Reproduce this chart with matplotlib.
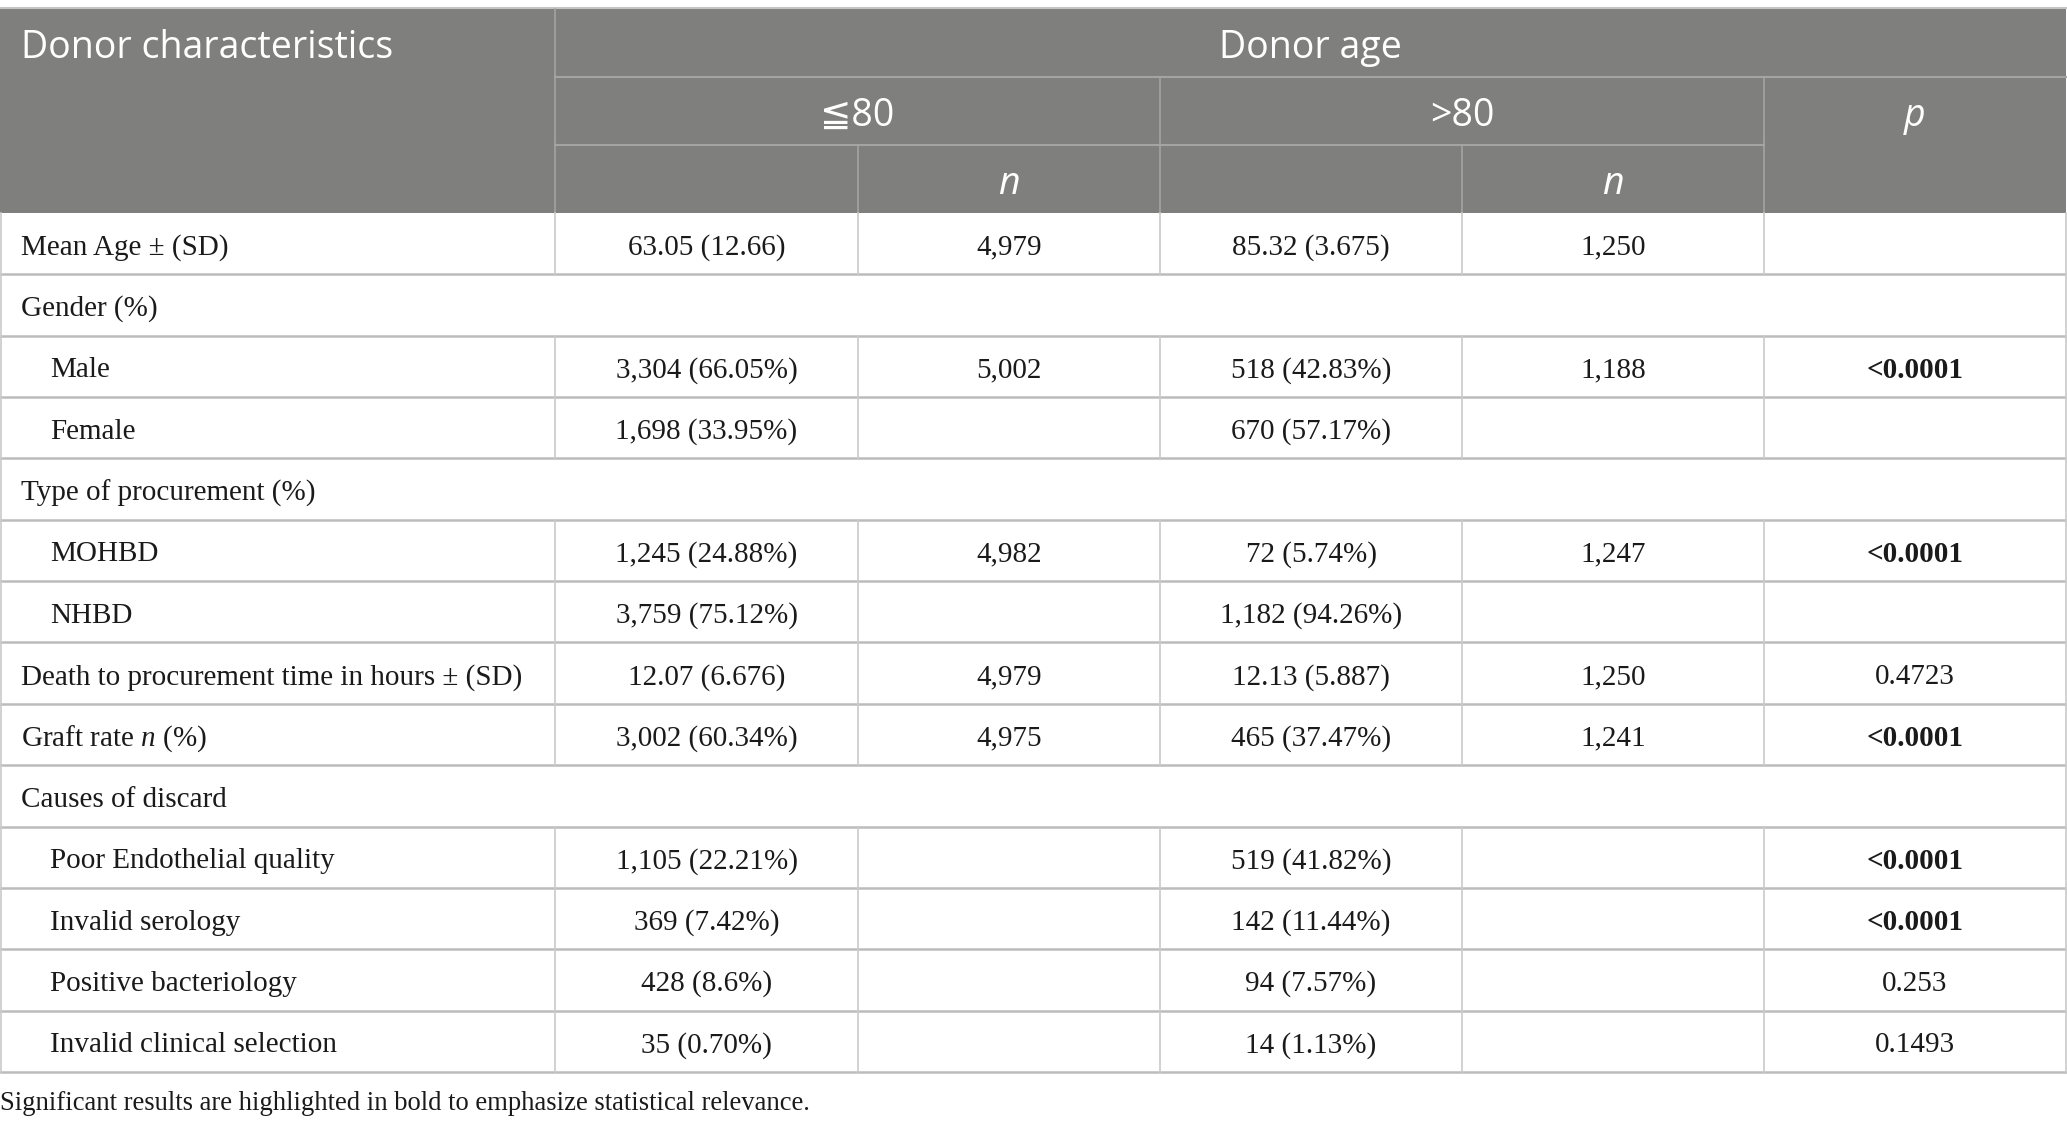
import matplotlib
matplotlib.use('Agg')
import matplotlib.pyplot as plt

#######################################################################
# table content

header_top = "Donor characteristics"
header_group = "Donor age"
age_groups = ["\u226680", ">80"]
p_label = "p"
n_label = "n"

row_labels = [
    "Mean Age \u00b1 (SD)",
    "Gender (%)",
    "Male",
    "Female",
    "Type of procurement (%)",
    "MOHBD",
    "NHBD",
    "Death to procurement time in hours \u00b1 (SD)",
    "Graft rate $\\it{n}$ (%)",
    "Causes of discard",
    "Poor Endothelial quality",
    "Invalid serology",
    "Positive bacteriology",
    "Invalid clinical selection",
]
section_rows = [1, 4, 9]
indent_rows = [2, 3, 5, 6, 10, 11, 12, 13]

young_val = ["63.05 (12.66)", "", "3,304 (66.05%)", "1,698 (33.95%)", "",
             "1,245 (24.88%)", "3,759 (75.12%)", "12.07 (6.676)", "3,002 (60.34%)", "",
             "1,105 (22.21%)", "369 (7.42%)", "428 (8.6%)", "35 (0.70%)"]
young_n = ["4,979", "", "5,002", "", "", "4,982", "", "4,979", "4,975", "",
           "", "", "", ""]
old_val = ["85.32 (3.675)", "", "518 (42.83%)", "670 (57.17%)", "",
           "72 (5.74%)", "1,182 (94.26%)", "12.13 (5.887)", "465 (37.47%)", "",
           "519 (41.82%)", "142 (11.44%)", "94 (7.57%)", "14 (1.13%)"]
old_n = ["1,250", "", "1,188", "", "", "1,247", "", "1,250", "1,241", "",
         "", "", "", ""]
p_values = ["", "", "<0.0001", "", "", "<0.0001", "", "0.4723", "<0.0001", "",
            "<0.0001", "<0.0001", "0.253", "0.1493"]
p_bold = [False, False, True, False, False, True, False, False, True, False,
          True, True, False, False]

caption = "Significant results are highlighted in bold to emphasize statistical relevance."

#######################################################################
# layout (pixels)

W, H = 2067, 1129
col_x = [0, 555, 858, 1160, 1462, 1764, 2066]
head_y = [9, 77, 145, 213]
row_h = 61.35

HEAD_BG = "#7f807e"
HEAD_LINE = "#a4a4a4"
GRID_H = "#bcbcbc"
GRID_V = "#cacaca"
TXT = "#1a1a1a"

SANS = ["Open Sans", "DejaVu Sans"]
SERIF = "Liberation Serif"

plt.rcParams['mathtext.fontset'] = 'custom'
plt.rcParams['mathtext.rm'] = SERIF
plt.rcParams['mathtext.it'] = SERIF + ':italic'

fig = plt.figure(figsize=(W / 100, H / 100), dpi=100)
ax = fig.add_axes([0, 0, 1, 1])
ax.set_xlim(0, W)
ax.set_ylim(H, 0)
ax.axis("off")

# header block
ax.add_patch(plt.Rectangle((0, head_y[0]), col_x[-1], head_y[3] - head_y[0],
                           facecolor=HEAD_BG, edgecolor="none"))
ax.plot([0, W], [head_y[0] - 1, head_y[0] - 1], color="#c4c4c4", lw=1.5)
ax.plot([col_x[1], col_x[-1]], [head_y[1], head_y[1]], color=HEAD_LINE, lw=1.5)
ax.plot([col_x[1], col_x[5]], [head_y[2], head_y[2]], color=HEAD_LINE, lw=1.5)
ax.plot([col_x[1], col_x[1]], [head_y[0], head_y[3]], color=HEAD_LINE, lw=1.2)
ax.plot([col_x[3], col_x[3]], [head_y[1], head_y[3]], color=HEAD_LINE, lw=1.2)
ax.plot([col_x[5], col_x[5]], [head_y[1], head_y[3]], color=HEAD_LINE, lw=1.2)
ax.plot([col_x[2], col_x[2]], [head_y[2], head_y[3]], color=HEAD_LINE, lw=1.2)
ax.plot([col_x[4], col_x[4]], [head_y[2], head_y[3]], color=HEAD_LINE, lw=1.2)

hfs = 27
hoff = 5
ax.text(21, (head_y[0] + head_y[1]) / 2 + hoff, header_top, family=SANS,
        fontsize=hfs, color="white", ha="left", va="center")
ax.text((col_x[1] + col_x[-1]) / 2, (head_y[0] + head_y[1]) / 2 + hoff, header_group,
        family=SANS, fontsize=hfs, color="white", ha="center", va="center")
for i, g in enumerate(age_groups):
    xc = (col_x[1 + 2 * i] + col_x[3 + 2 * i]) / 2
    ax.text(xc, (head_y[1] + head_y[2]) / 2 + hoff, g, family=SANS, fontsize=hfs,
            color="white", ha="center", va="center")
    xn = (col_x[2 + 2 * i] + col_x[3 + 2 * i]) / 2
    ax.text(xn, (head_y[2] + head_y[3]) / 2 + hoff, n_label, family=SANS,
            fontsize=hfs, color="white", ha="center", va="center", style="italic")
ax.text((col_x[5] + col_x[6]) / 2, (head_y[1] + head_y[2]) / 2 + hoff, p_label,
        family=SANS, fontsize=hfs, color="white", ha="center", va="center",
        style="italic")

# body rows
bfs = 21
boff = 4
top = head_y[3]
columns = [young_val, young_n, old_val, old_n, p_values]
for r, label in enumerate(row_labels):
    y0 = top + r * row_h
    y1 = y0 + row_h
    yc = (y0 + y1) / 2 + boff
    ax.plot([0, W], [y1, y1], color=GRID_H, lw=1.8)
    ax.plot([0.5, 0.5], [y0, y1], color=GRID_V, lw=1.2)
    ax.plot([col_x[-1], col_x[-1]], [y0, y1], color=GRID_V, lw=1.2)
    x_lab = 50 if r in indent_rows else 21
    ax.text(x_lab, yc, label, family=SERIF, fontsize=bfs, color=TXT,
            ha="left", va="center")
    if r in section_rows:
        continue
    for c in range(1, 6):
        ax.plot([col_x[c], col_x[c]], [y0, y1], color=GRID_V, lw=1.2)
    for c, vals in enumerate(columns):
        xc = (col_x[c + 1] + col_x[c + 2]) / 2
        weight = "bold" if (c == 4 and p_bold[r]) else "normal"
        ax.text(xc, yc, vals[r], family=SERIF, fontsize=bfs, color=TXT,
                ha="center", va="center", fontweight=weight)

ax.text(0, 1104, caption, family=SERIF, fontsize=19.2, color=TXT,
        ha="left", va="center")

fig.savefig("out.png", dpi=100, facecolor="white")
